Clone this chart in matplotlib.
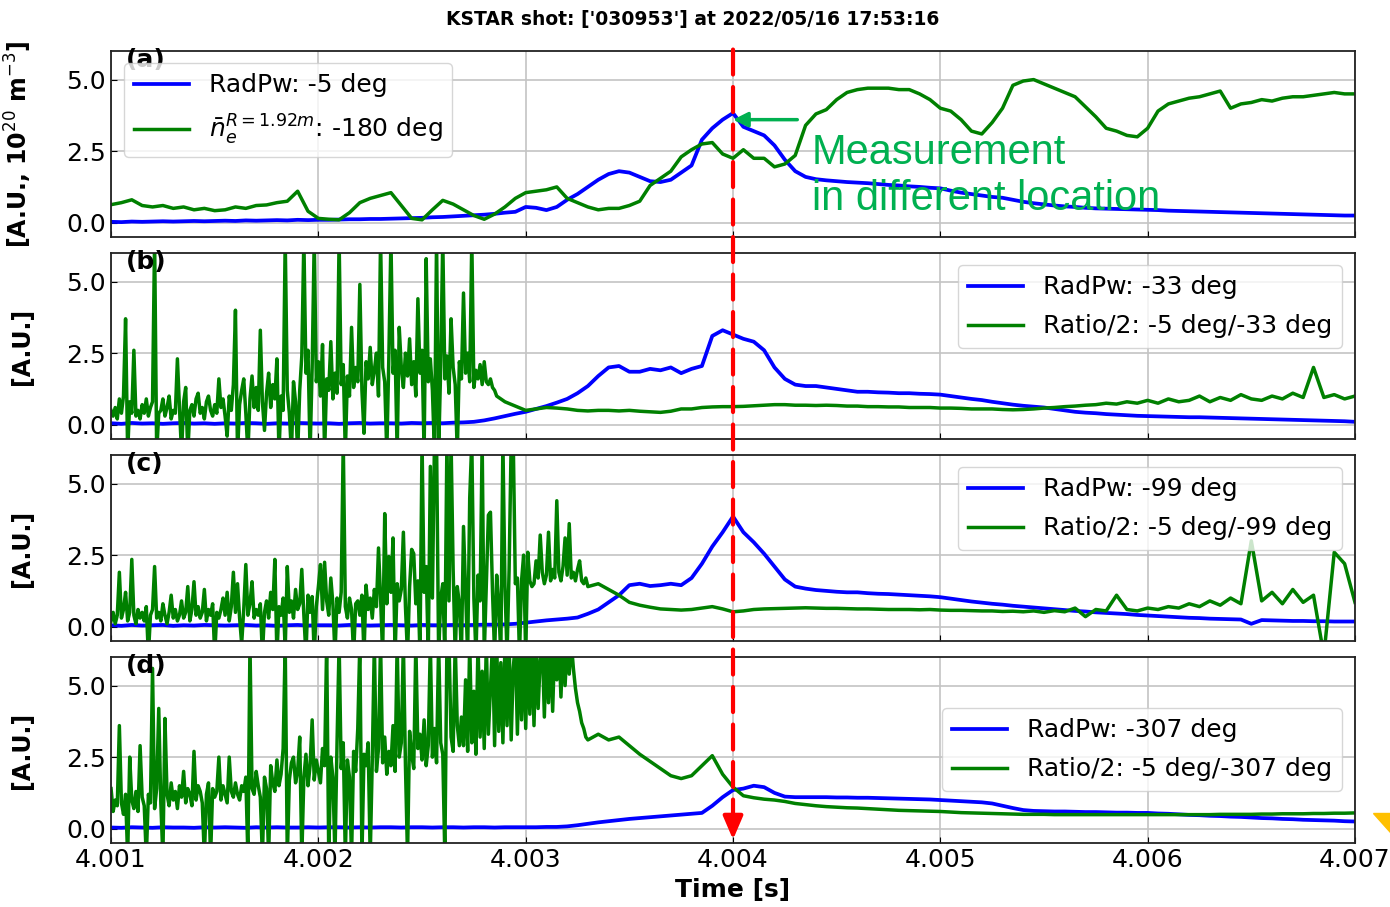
import numpy as np
import matplotlib.pyplot as plt
from matplotlib.patches import ConnectionPatch, Polygon

#------------------------------------------------------------ data
tStart = 4.001
tEnd = 4.007
fastStep = 1e-5
slowStep = 5e-5

#(a) RadPw -5 deg and line density at -180 deg, 50 us samples
radPwA = [0.03,0.02,0.04,0.03,0.04,0.05,0.04,0.05,0.06,0.05,
          0.06,0.07,0.06,0.08,0.07,0.08,0.09,0.08,0.10,0.09,
          0.10,0.10,0.11,0.12,0.12,0.13,0.13,0.14,0.15,0.16,
          0.17,0.19,0.20,0.22,0.24,0.26,0.28,0.31,0.35,0.38,
          0.55,0.52,0.44,0.55,0.80,1.00,1.25,1.50,1.70,1.80,
          1.75,1.60,1.45,1.42,1.50,1.75,2.00,2.90,3.30,3.60,
          3.83,3.35,3.20,3.05,2.70,2.20,1.80,1.60,1.52,1.48,
          1.45,1.42,1.40,1.38,1.35,1.32,1.30,1.27,1.25,1.22,
          1.20,1.12,1.05,1.00,0.95,0.90,0.87,0.80,0.73,0.68,
          0.64,0.60,0.57,0.55,0.52,0.50,0.49,0.48,0.47,0.46,
          0.45,0.44,0.42,0.41,0.40,0.39,0.38,0.37,0.36,0.35,
          0.34,0.33,0.32,0.31,0.30,0.29,0.28,0.27,0.26,0.25,
          0.25]
densA = [0.63,0.70,0.80,0.60,0.55,0.60,0.50,0.55,0.45,0.50,
         0.42,0.45,0.55,0.50,0.60,0.62,0.70,0.75,1.10,0.40,
         0.15,0.12,0.10,0.35,0.70,0.85,0.95,1.05,0.60,0.15,
         0.10,0.45,0.78,0.65,0.45,0.25,0.12,0.30,0.55,0.85,
         1.05,1.10,1.15,1.25,0.85,0.70,0.55,0.45,0.50,0.50,
         0.60,0.75,1.30,1.55,1.80,2.30,2.55,2.75,2.80,2.40,
         2.25,2.55,2.25,2.25,1.95,2.05,2.35,3.40,3.80,3.95,
         4.30,4.55,4.65,4.70,4.70,4.70,4.65,4.65,4.50,4.30,
         4.00,3.90,3.60,3.20,3.10,3.50,4.00,4.80,4.95,5.00,
         4.85,4.70,4.55,4.40,4.05,3.70,3.30,3.20,3.05,3.00,
         3.30,3.90,4.15,4.25,4.35,4.40,4.50,4.60,4.00,4.15,
         4.20,4.30,4.25,4.35,4.40,4.40,4.45,4.50,4.55,4.50,
         4.50]

#(b) RadPw -33 deg and ratio -5/-33
radPwB = [0.05,0.03,0.06,0.04,0.05,0.03,0.05,0.06,0.04,0.05,
          0.03,0.05,0.04,0.06,0.05,0.03,0.05,0.04,0.06,0.05,
          0.04,0.05,0.03,0.05,0.06,0.04,0.05,0.05,0.04,0.06,
          0.05,0.06,0.05,0.07,0.08,0.10,0.15,0.22,0.30,0.38,
          0.45,0.55,0.65,0.77,0.90,1.10,1.35,1.70,2.00,2.05,
          1.85,1.85,1.95,1.90,2.00,1.80,1.95,2.05,3.10,3.30,
          3.15,3.00,2.90,2.60,2.00,1.60,1.40,1.35,1.35,1.30,
          1.25,1.20,1.15,1.15,1.13,1.12,1.10,1.10,1.08,1.07,
          1.05,1.00,0.95,0.90,0.86,0.80,0.75,0.70,0.66,0.63,
          0.60,0.55,0.50,0.45,0.42,0.40,0.37,0.35,0.33,0.31,
          0.30,0.29,0.28,0.27,0.26,0.26,0.25,0.24,0.23,0.22,
          0.21,0.20,0.19,0.18,0.17,0.16,0.15,0.14,0.13,0.12,
          0.10]
#10 us samples from 4.0010 to 4.0029
ratioBFast = [0.5,0.3,0.6,0.2,0.9,0.4,1.0,3.7,-1.0,0.8,
              0.4,2.6,0.3,0.5,0.2,0.7,0.4,0.9,0.3,0.6,
              0.8,6.5,-1.0,0.4,0.5,0.9,0.3,0.6,1.0,0.2,
              0.5,0.4,2.3,0.6,-1.0,0.8,1.3,-1.0,0.5,0.7,
              0.3,0.9,1.1,0.4,0.6,0.2,0.8,1.0,0.5,0.3,
              0.7,0.4,1.6,0.6,0.9,0.3,-0.4,1.0,0.5,1.4,
              4.0,-1.0,0.7,1.2,1.6,0.4,-1.0,0.9,1.7,0.6,
              1.3,0.5,3.3,0.8,-0.2,1.1,1.8,0.6,1.4,0.9,
              2.3,-1.0,1.0,0.5,6.5,1.2,0.4,-1.0,1.5,0.8,
              -1.0,1.2,2.4,6.5,1.8,2.6,-1.0,2.0,6.5,1.5,
              2.2,1.0,2.8,-1.0,1.6,1.2,2.9,0.9,1.8,1.1,
              6.5,1.4,2.1,-1.0,1.7,1.0,3.4,1.3,2.0,1.5,
              4.9,1.2,-0.3,2.2,1.6,2.7,1.4,1.9,2.5,1.0,
              6.5,2.0,1.5,-1.0,2.4,6.5,1.8,2.6,-1.0,3.4,
              2.0,1.3,2.5,1.7,3.0,1.4,2.2,1.0,4.4,1.8,
              2.6,-1.0,5.8,1.5,2.3,1.2,-1.0,6.5,-1.0,2.0,
              6.5,1.6,2.4,1.1,3.7,2.0,1.4,-1.0,2.2,1.6,
              4.6,1.8,2.5,1.5,6.5,1.3,1.9,1.6,2.1,1.4,
              2.2,1.5,1.4,1.6,1.3,1.2,1.0,0.95,0.9,0.85,
              0.8]
#50 us samples from 4.0030 to 4.0070
ratioBSlow = [0.50,0.55,0.60,0.58,0.55,0.50,0.48,0.50,0.50,0.48,
              0.50,0.47,0.45,0.43,0.47,0.55,0.55,0.60,0.62,0.63,
              0.63,0.64,0.66,0.68,0.70,0.70,0.68,0.68,0.67,0.68,
              0.67,0.65,0.65,0.63,0.63,0.62,0.62,0.60,0.60,0.60,
              0.58,0.58,0.57,0.55,0.55,0.55,0.53,0.52,0.53,0.55,
              0.58,0.60,0.63,0.65,0.68,0.70,0.75,0.72,0.80,0.75,
              0.85,0.75,0.90,0.80,0.85,1.00,0.80,0.95,0.85,1.05,
              0.90,0.85,1.00,0.90,1.10,0.95,2.00,0.95,1.05,0.90,
              1.00]

#(c) RadPw -99 deg and ratio -5/-99
radPwC = [0.05,0.03,0.06,0.04,0.05,0.06,0.03,0.05,0.04,0.06,
          0.05,0.04,0.05,0.06,0.04,0.05,0.03,0.05,0.06,0.04,
          0.05,0.05,0.04,0.06,0.05,0.04,0.05,0.06,0.05,0.04,
          0.06,0.05,0.05,0.06,0.05,0.06,0.07,0.07,0.08,0.10,
          0.14,0.18,0.22,0.25,0.28,0.32,0.45,0.60,0.85,1.10,
          1.45,1.50,1.42,1.45,1.50,1.45,1.70,2.20,2.80,3.30,
          3.85,3.30,2.95,2.55,2.10,1.65,1.40,1.33,1.28,1.25,
          1.22,1.20,1.20,1.17,1.15,1.14,1.12,1.10,1.08,1.06,
          1.03,0.98,0.93,0.88,0.84,0.80,0.77,0.73,0.70,0.67,
          0.64,0.61,0.58,0.55,0.53,0.50,0.48,0.46,0.44,0.41,
          0.39,0.37,0.35,0.33,0.31,0.30,0.28,0.27,0.26,0.25,
          0.10,0.23,0.22,0.21,0.20,0.20,0.19,0.19,0.18,0.18,
          0.18]
#10 us samples from 4.0010 to 4.0033
ratioCFast = [0.2,0.5,0.1,0.4,1.9,0.3,0.6,1.2,0.2,0.5,
              2.35,0.4,0.1,0.6,0.3,0.5,0.2,0.7,-1.0,0.4,
              0.6,2.1,0.3,0.5,0.2,0.8,0.4,0.1,0.5,1.1,
              0.3,0.6,0.2,0.4,0.9,0.3,0.5,1.4,0.2,0.6,
              1.57,0.4,0.7,0.3,0.5,1.3,0.2,0.6,0.4,0.8,
              -1.0,0.5,0.3,0.6,1.0,0.4,1.2,0.2,0.7,1.9,
              0.5,1.5,0.3,-0.6,0.6,2.17,0.4,0.8,1.57,0.3,
              0.6,0.4,0.8,-1.0,0.5,0.9,0.3,1.2,0.6,2.35,
              -1.0,0.7,0.4,1.0,-0.8,2.1,0.5,0.9,0.3,1.3,
              0.6,0.8,2.0,0.4,-1.0,1.1,0.5,1.05,-1.0,0.7,
              1.4,2.17,0.6,2.25,0.9,0.4,1.7,0.8,-1.0,1.0,
              0.5,1.2,6.5,0.7,0.3,1.0,0.6,-1.0,0.8,0.9,
              0.4,1.1,-1.0,1.45,0.6,1.0,0.3,1.3,0.7,2.75,
              1.0,-1.0,3.95,0.8,2.45,1.2,3.1,-1.0,1.5,0.9,
              1.3,3.3,0.7,-1.0,1.4,2.7,2.55,0.8,1.6,-1.0,
              6.5,1.2,2.1,-1.0,5.6,1.0,6.5,6.5,-1.0,1.0,
              1.5,-1.0,6.5,0.9,6.5,2.0,-1.0,1.4,0.8,-1.0,
              3.5,1.2,-1.0,4.5,6.5,1.0,-1.0,1.8,0.9,6.5,
              -1.0,1.5,3.9,4.0,1.2,-1.0,1.8,0.7,-1.0,6.5,
              1.4,-1.0,2.0,6.5,6.5,1.5,1.7,-1.0,1.6,2.5,
              -1.0,2.6,1.6,1.4,1.5,2.3,1.7,3.2,1.9,1.5,
              1.8,3.3,1.6,2.0,1.7,4.4,1.9,1.6,2.1,3.1,
              1.8,3.6,1.7,1.9,1.6,2.0,2.3,1.6,1.5,1.7,
              1.4]
#50 us samples from 4.00335 to 4.0070
ratioCSlow = [1.50,1.30,1.10,
              0.85,0.75,0.68,0.62,0.60,0.58,0.60,0.65,0.70,0.62,
              0.52,0.55,0.60,0.62,0.63,0.64,0.65,0.66,0.65,0.64,
              0.64,0.63,0.62,0.62,0.61,0.60,0.60,0.60,0.59,0.60,
              0.58,0.57,0.57,0.56,0.55,0.55,0.53,0.54,0.52,0.55,
              0.50,0.56,0.52,0.65,0.35,0.60,0.55,1.10,0.60,0.55,
              0.65,0.60,0.70,0.65,0.80,0.70,0.90,0.75,1.00,0.80,
              3.00,0.90,1.20,0.80,1.30,0.85,1.10,-1.00,2.60,2.20,0.85]

#(d) RadPw -307 deg and ratio -5/-307
radPwD = [0.04,0.03,0.05,0.04,0.03,0.05,0.04,0.04,0.03,0.05,
          0.04,0.05,0.04,0.03,0.05,0.04,0.05,0.04,0.04,0.05,
          0.04,0.05,0.05,0.04,0.05,0.04,0.05,0.05,0.04,0.05,
          0.05,0.04,0.05,0.05,0.04,0.05,0.05,0.04,0.05,0.05,
          0.05,0.05,0.06,0.06,0.08,0.12,0.17,0.22,0.26,0.30,
          0.34,0.37,0.40,0.43,0.46,0.49,0.52,0.55,0.80,1.10,
          1.35,1.40,1.50,1.45,1.25,1.12,1.10,1.10,1.10,1.10,
          1.09,1.09,1.08,1.08,1.07,1.06,1.05,1.04,1.03,1.02,
          1.00,0.98,0.96,0.94,0.92,0.88,0.80,0.72,0.65,0.62,
          0.61,0.60,0.60,0.59,0.58,0.58,0.57,0.56,0.56,0.55,
          0.55,0.53,0.52,0.50,0.48,0.47,0.45,0.44,0.42,0.41,
          0.39,0.37,0.36,0.34,0.33,0.31,0.30,0.29,0.28,0.26,
          0.25]
ratioDFast = [1.4,0.6,1.0,0.8,3.6,0.9,0.5,1.2,-1.0,2.5,
              1.0,0.7,1.3,0.6,2.9,1.1,0.8,-1.0,1.2,0.9,
              5.6,0.7,1.4,4.2,0.9,-1.0,3.85,1.2,0.8,1.6,
              1.0,1.3,0.7,1.5,1.1,2.0,0.9,1.4,1.2,0.8,
              2.7,1.0,1.5,1.3,0.9,-1.0,1.2,1.6,-1.0,1.4,
              1.1,1.3,2.5,1.0,1.5,1.2,0.9,2.5,1.3,1.1,
              1.6,1.2,1.0,1.5,1.3,1.8,-1.0,6.5,1.4,1.2,
              2.0,1.5,1.1,-1.0,1.8,1.4,-1.0,2.2,1.6,1.3,
              2.4,1.5,1.9,2.8,6.5,-1.0,1.7,2.3,2.5,1.6,
              2.0,3.2,-1.0,1.8,2.6,1.5,2.2,3.8,1.7,2.4,
              2.0,1.6,2.8,2.2,6.5,-1.0,2.5,1.8,-1.0,3.0,
              6.5,2.1,3.0,-1.0,2.4,1.8,-1.0,2.7,2.0,3.5,
              6.5,-1.0,2.6,2.2,3.0,-1.0,2.4,6.5,2.0,2.8,
              6.5,2.3,3.2,1.9,2.7,2.2,3.6,2.0,6.5,2.5,
              3.0,6.5,2.2,-1.0,3.4,2.6,2.1,6.5,2.8,3.3,
              2.4,3.8,2.2,2.9,6.5,2.5,3.5,2.3,6.5,3.0,
              2.6,-1.0,6.5,6.5,3.2,2.7,6.5,3.6,2.9,3.9,
              2.9,5.2,2.7,6.5,3.0,4.8,2.6,6.5,3.2,5.5,
              2.8,6.5,3.3,4.9,6.5,2.9,6.5,3.4,5.8,3.0,
              6.5,3.6,6.5,3.1,5.6,6.5,3.3,6.5,3.8,6.5,
              3.5,6.5,4.0,6.5,3.6,6.5,4.2,5.9,6.5,3.9,
              6.5,4.4,6.5,4.1,6.5,5.2,6.5,4.6,6.5,5.0,
              6.5,5.4,6.5,5.6,4.9,4.4,4.1,3.7,3.5,3.2,
              3.1]
ratioDSlow = [3.30,3.10,3.20,
              2.90,2.60,2.35,2.10,1.85,1.75,1.85,2.20,2.55,1.90,
              1.45,1.15,1.08,1.03,1.00,0.95,0.88,0.84,0.80,0.77,
              0.75,0.73,0.72,0.70,0.68,0.66,0.64,0.63,0.62,0.61,
              0.60,0.58,0.56,0.55,0.54,0.53,0.52,0.51,0.50,0.50,
              0.50,0.49,0.49,0.49,0.49,0.49,0.49,0.49,0.49,0.49,
              0.49,0.49,0.49,0.49,0.49,0.49,0.49,0.50,0.50,0.50,
              0.50,0.51,0.51,0.52,0.52,0.52,0.53,0.53,0.54,0.54,0.55]

blueLabels = ['RadPw: -5 deg', 'RadPw: -33 deg', 'RadPw: -99 deg', 'RadPw: -307 deg']
greenLabels = [r'$\bar{n}_e^{R=1.92m}$: -180 deg', 'Ratio/2: -5 deg/-33 deg',
               'Ratio/2: -5 deg/-99 deg', 'Ratio/2: -5 deg/-307 deg']
panelTags = ['(a)', '(b)', '(c)', '(d)']
yLabels = [r'[A.U., 10$^{20}$ m$^{-3}$]', '[A.U.]', '[A.U.]', '[A.U.]']
legendLocs = ['upper left', 'upper right', 'upper right', 'center right']
xTicks = [4.001, 4.002, 4.003, 4.004, 4.005, 4.006, 4.007]
yTicks = [0.0, 2.5, 5.0]
tMark = 4.004
shotTitle = "KSTAR shot: ['030953'] at 2022/05/16 17:53:16"

def slowTime(vals):
    #50 us series ending at tEnd
    return tEnd - slowStep * np.arange(len(vals))[::-1]

def fastTime(vals):
    return tStart + fastStep * np.arange(len(vals))

blueSeries = [radPwA, radPwB, radPwC, radPwD]
greenSeries = [
    (np.linspace(tStart, tEnd, len(densA)), np.array(densA)),
    (np.concatenate([fastTime(ratioBFast), slowTime(ratioBSlow)]), np.array(ratioBFast + ratioBSlow)),
    (np.concatenate([fastTime(ratioCFast), slowTime(ratioCSlow)]), np.array(ratioCFast + ratioCSlow)),
    (np.concatenate([fastTime(ratioDFast), slowTime(ratioDSlow)]), np.array(ratioDFast + ratioDSlow)),
]

#------------------------------------------------------------ figure
fig = plt.figure(figsize=(13.9, 9.07), dpi=100)
bottoms = [0.7387, 0.5160, 0.2933, 0.0706]
axs = [fig.add_axes([0.0799, b, 0.8949, 0.2051]) for b in bottoms]

for i, ax in enumerate(axs):
    tb = np.linspace(tStart, tEnd, len(blueSeries[i]))
    ax.plot(tb, blueSeries[i], color='b', lw=2.7, label=blueLabels[i])
    tg, vg = greenSeries[i]
    ax.plot(tg, vg, color='g', lw=2.5, label=greenLabels[i])
    ax.set_xlim(tStart, tEnd)
    ax.set_ylim(-0.5, 6.0)
    ax.set_xticks(xTicks)
    ax.set_yticks(yTicks)
    ax.xaxis.set_major_formatter('{x:.3f}')
    ax.yaxis.set_major_formatter('{x:.1f}')
    ax.grid(True, color='#c4c4c4', lw=1.2)
    ax.tick_params(direction='in', labelsize=18, length=4)
    for s in ax.spines.values():
        s.set_color('#222222')
        s.set_linewidth(1.3)
    if i < 3:
        ax.tick_params(labelbottom=False)
    ax.set_ylabel(yLabels[i], fontsize=17, fontweight='bold')
    ax.yaxis.set_label_coords(-0.062, 0.5)
    ax.text(0.012, 0.95, panelTags[i], transform=ax.transAxes, fontsize=18,
            fontweight='bold', va='center', ha='left')
    ax.legend(loc=legendLocs[i], fontsize=18, handlelength=2.2, labelspacing=0.6)

axs[3].set_xlabel('Time [s]', fontsize=18, fontweight='bold')
axs[3].xaxis.set_label_coords(0.5, -0.19)

fig.text(0.498, 0.978, shotTitle, ha='center', va='center', fontsize=13.5, fontweight='bold')

#note on panel (a)
axs[0].annotate('', xy=(tMark, 3.6), xytext=(4.00431, 3.6),
                arrowprops=dict(arrowstyle='-|>', color='#00B050', lw=2.5,
                                mutation_scale=22, shrinkA=0, shrinkB=0))
axs[0].text(4.00438, 3.15, 'Measurement\nin different location', color='#00B050',
            fontsize=30, family='Liberation Sans', va='top', ha='left', linespacing=1.2)

#red marker at 4.004 through all panels
redLine = ConnectionPatch(xyA=(tMark, 6.05), coordsA=axs[0].transData,
                          xyB=(tMark, 0.2), coordsB=axs[3].transData,
                          color='red', lw=3, linestyle=(0, (6, 3)))
fig.add_artist(redLine)
axs[3].annotate('', xy=(tMark, -0.38), xytext=(tMark, 0.35),
                arrowprops=dict(arrowstyle='-|>,head_width=0.3,head_length=0.7', color='red',
                                lw=3, mutation_scale=20, shrinkA=0, shrinkB=0))

#corner mark
fig.add_artist(Polygon([[1373 / 1390, 1 - 813 / 907], [1.0, 1 - 813 / 907], [1.0, 1 - 832 / 907]],
                       closed=True, transform=fig.transFigure, color='#FFC000'))

plt.savefig('out.png', dpi=100)
